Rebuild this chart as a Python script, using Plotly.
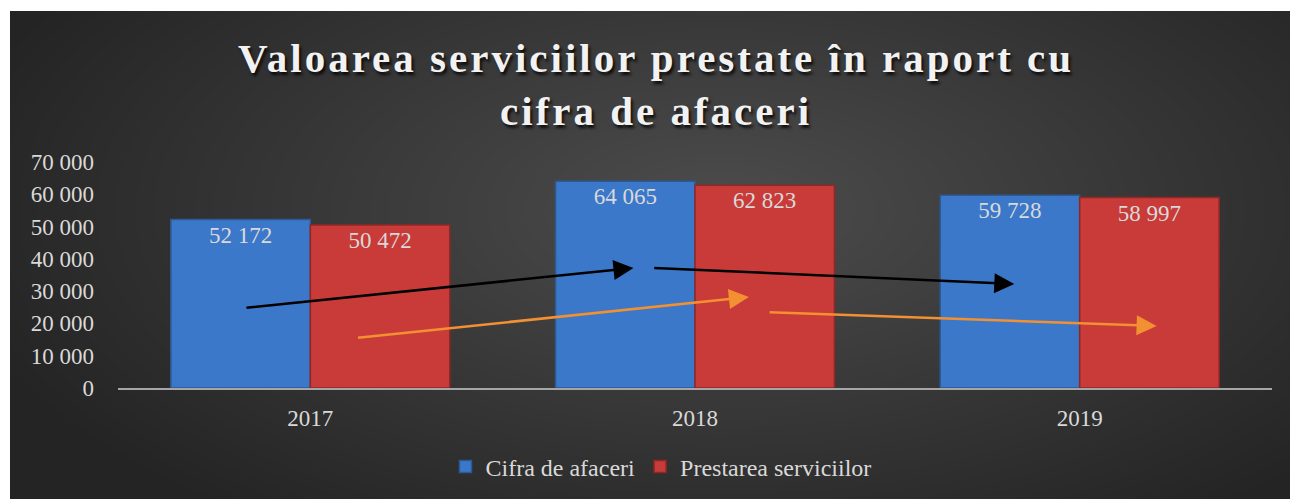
import plotly.graph_objects as go

years = ["2017", "2018", "2019"]
cifra_afaceri = [52172, 64065, 59728]
prestarea_serviciilor = [50472, 62823, 58997]
series_names = ["Cifra de afaceri", "Prestarea serviciilor"]
y_ticks = [0, 10000, 20000, 30000, 40000, 50000, 60000, 70000]

# trend arrows drawn over the bars: (x_start, y_start, x_end, y_end), x as category index
black_arrows = [(-0.17, 24800, 0.84, 37200), (0.89, 37200, 1.83, 32200)]
orange_arrows = [(0.12, 15500, 1.14, 28200), (1.19, 23500, 2.20, 19200)]

W, H = 1290, 499
L, R, T, B = 118, 18, 162, 111
pw, ph = W - L - R, H - T - B


# screen pixel -> paper coordinate
def px(x):
    return (x - L) / pw


def py(y):
    return (H - B - y) / ph


def fmt(v):
    return f"{v:,}".replace(",", " ")


serif = "Liberation Serif, Times New Roman, serif"
light = "#d9d9d9"

fig = go.Figure()
fig.add_trace(go.Bar(
    x=years, y=cifra_afaceri, name=series_names[0],
    text=[fmt(v) for v in cifra_afaceri], textposition="inside",
    insidetextanchor="end", textangle=0,
    textfont=dict(family=serif, size=23, color=light),
    marker=dict(color="#3b78c9", line=dict(color="#2d5a94", width=1.5)),
))
fig.add_trace(go.Bar(
    x=years, y=prestarea_serviciilor, name=series_names[1],
    text=[fmt(v) for v in prestarea_serviciilor], textposition="inside",
    insidetextanchor="end", textangle=0,
    textfont=dict(family=serif, size=23, color=light),
    marker=dict(color="#c93b38", line=dict(color="#8e2826", width=1.5)),
))

shapes = [dict(type="rect", xref="paper", yref="paper", layer="below",
               x0=px(10), x1=px(1300), y0=py(510), y1=py(11),
               fillcolor="#242424", line=dict(width=0))]
# soft radial glow in the middle of the background
cx, cy = 720, 210
n = 40
for i in range(n):
    f = 1 - i / n
    rx, ry = 780 * f, 380 * f
    shapes.append(dict(type="circle", xref="paper", yref="paper", layer="below",
                       x0=px(cx - rx), x1=px(cx + rx), y0=py(cy + ry), y1=py(cy - ry),
                       fillcolor="rgba(255,255,255,0.0075)", line=dict(width=0)))
fig.update_layout(shapes=shapes)

for arrows, col in [(black_arrows, "#000000"), (orange_arrows, "#f39031")]:
    for x0, y0, x1, y1 in arrows:
        fig.add_annotation(x=x1, y=y1, ax=x0, ay=y0, xref="x", yref="y",
                           axref="x", ayref="y", text="", showarrow=True,
                           arrowhead=2, arrowsize=1.6, arrowwidth=2.5,
                           arrowcolor=col, standoff=0, startstandoff=0)

fig.update_layout(
    width=W, height=H,
    margin=dict(l=L, r=R, t=T, b=B, autoexpand=False),
    paper_bgcolor="white", plot_bgcolor="rgba(0,0,0,0)",
    barmode="group", bargap=0.275, bargroupgap=0,
    title=dict(text="Valoarea serviciilor prestate în raport cu<br>cifra de afaceri",
               x=656 / W, xanchor="center", y=1 - 72 / H, yanchor="top",
               font=dict(family=serif, size=41, color="#f2f2f2", weight="bold",
                         shadow="2px 3px 3px rgba(0,0,0,0.8)")),
    font=dict(family=serif, color=light),
    showlegend=True,
    legend=dict(orientation="h", x=px(661), xanchor="center", y=py(467), yanchor="middle",
                font=dict(family=serif, size=24, color=light), bgcolor="rgba(0,0,0,0)",
                itemwidth=30, traceorder="normal"),
    xaxis=dict(type="category", showgrid=False, showline=True, linecolor="#a6a6a6",
               linewidth=2, ticks="", ticklabelstandoff=8,
               tickfont=dict(family=serif, size=23, color=light)),
    yaxis=dict(range=[0, 70000], tickvals=y_ticks, ticktext=[fmt(v) for v in y_ticks],
               showgrid=False, zeroline=False, showline=False, ticks="",
               ticklabelstandoff=23, tickfont=dict(family=serif, size=23, color=light)),
)

# drop the page margin, and letter-space the title (plotly has no option for it)
page_js = (
    "document.body.style.margin = '0'; document.body.style.overflow = 'hidden';"
    "var t = document.querySelector('.gtitle'); if (t) { t.style.letterSpacing = '3px'; }"
)
fig.write_html("out.html", post_script=page_js, config={"displayModeBar": False})
